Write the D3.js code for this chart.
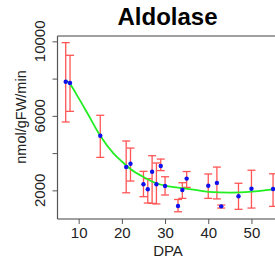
<!DOCTYPE html>
<html>
<head>
<meta charset="utf-8">
<script src="https://cdn.jsdelivr.net/npm/d3@7"></script>
<style>
  html, body { margin: 0; padding: 0; background: #fff; }
  svg { display: block; }
  text { font-family: "Liberation Sans", Arial, sans-serif; }
</style>
</head>
<body>
<div id="chart"></div>
<script>
// ---------------------------
// Data
// ---------------------------
const dpa = [7, 8, 15, 21, 22, 25, 26, 27, 28, 29, 30, 33, 34, 35, 40, 42, 43, 47, 50, 55];
const activity = [7830, 7760, 4930, 3250, 3430, 2330, 2060, 3000, 2330, 3310, 2230, 1160, 2020, 2630, 2250, 2400, 1140, 1680, 2090, 2070];
const errLow = [5670, 6240, 3770, 1870, 2500, 1660, 1320, 1300, 1270, 3060, 1750, 850, 1570, 2160, 1570, 1540, 1050, 980, 1050, 1140];
const errHigh = [9930, 9250, 6030, 4650, 4270, 3020, 2630, 3860, 3470, 3680, 2730, 1510, 2410, 3010, 2880, 3250, 1210, 2380, 3080, 2890];

// smooth fit (green)
const fitDpa = [7, 8, 10, 12, 15, 18, 20, 22, 25, 28, 30, 33, 37, 40, 45, 50, 55];
const fitVal = [7920, 7700, 6950, 6150, 4930, 4000, 3550, 3150, 2720, 2380, 2250, 2150, 2020, 1920, 1880, 1930, 2050];

const xTicks = [10, 20, 30, 40, 50];
const yTicks = [2000, 4000, 6000, 8000, 10000];
const yLabels = [2000, 6000, 10000];

const width = 275;
const height = 271;

const svg = d3.select("#chart")
  .append("svg")
  .attr("width", width)
  .attr("height", height);

// ---------------------------
// Scales
// ---------------------------
const x = d3.scaleLinear().domain([5.1, 55.45]).range([57.5, 275]);
const y = d3.scaleLinear().domain([462, 10287]).range([219, 36]);

// ---------------------------
// Box / axes
// ---------------------------
svg.append("line")
  .attr("x1", 57.5).attr("x2", 280)
  .attr("y1", 36).attr("y2", 36)
  .attr("stroke", "#a0a0a0").attr("stroke-width", 2);

const xAxis = svg.append("g")
  .attr("transform", "translate(0,219)")
  .call(d3.axisBottom(x).tickValues(xTicks).tickSize(5).tickPadding(3).tickSizeOuter(0));

const yAxis = svg.append("g")
  .attr("transform", "translate(57.5,0)")
  .call(d3.axisLeft(y).tickValues(yTicks).tickSize(5).tickFormat(d => "").tickSizeOuter(0));

xAxis.select(".domain").attr("stroke", "#a0a0a0").attr("stroke-width", 2)
  .attr("d", "M57.5,0H280");
yAxis.select(".domain").attr("stroke", "#555").attr("stroke-width", 1.2)
  .attr("d", `M0,36V219`);
xAxis.selectAll(".tick line").attr("stroke", "#555");
yAxis.selectAll(".tick line").attr("stroke", "#555");

xAxis.selectAll(".tick text")
  .attr("font-size", 15)
  .attr("font-family", "Liberation Sans, Arial, sans-serif")
  .attr("fill", "#222");

// rotated y tick labels
svg.append("g")
  .selectAll("text")
  .data(yLabels)
  .join("text")
  .attr("transform", d => `translate(45,${y(d)}) rotate(-90)`)
  .attr("text-anchor", "middle")
  .attr("font-size", 15)
  .attr("fill", "#222")
  .text(d => d);

// ---------------------------
// Titles
// ---------------------------
svg.append("text")
  .attr("x", 167.5)
  .attr("y", 25)
  .attr("text-anchor", "middle")
  .attr("font-size", 24)
  .attr("font-weight", "bold")
  .attr("fill", "#000")
  .text("Aldolase");

svg.append("text")
  .attr("x", 168)
  .attr("y", 256)
  .attr("text-anchor", "middle")
  .attr("font-size", 15)
  .attr("fill", "#222")
  .text("DPA");

svg.append("text")
  .attr("transform", "translate(26,117) rotate(-90)")
  .attr("text-anchor", "middle")
  .attr("font-size", 14.5)
  .attr("fill", "#222")
  .text("nmol/gFW/min");

// ---------------------------
// Error bars
// ---------------------------
const rows = dpa.map((d, i) => ({ x: d, v: activity[i], lo: errLow[i], hi: errHigh[i] }));

const bars = svg.append("g")
  .attr("stroke", "#f55")
  .attr("stroke-width", 1.3)
  .selectAll("g")
  .data(rows)
  .join("g");

bars.append("line")
  .attr("x1", d => x(d.x)).attr("x2", d => x(d.x))
  .attr("y1", d => y(d.lo)).attr("y2", d => y(d.hi));

bars.append("line")
  .attr("x1", d => x(d.x) - 4).attr("x2", d => x(d.x) + 4)
  .attr("y1", d => y(d.hi)).attr("y2", d => y(d.hi));

bars.append("line")
  .attr("x1", d => x(d.x) - 4).attr("x2", d => x(d.x) + 4)
  .attr("y1", d => y(d.lo)).attr("y2", d => y(d.lo));

// ---------------------------
// Fit line
// ---------------------------
const fit = fitDpa.map((d, i) => [d, fitVal[i]]);

svg.append("path")
  .datum(fit)
  .attr("fill", "none")
  .attr("stroke", "#22ee22")
  .attr("stroke-width", 1.8)
  .attr("d", d3.line()
    .x(d => x(d[0]))
    .y(d => y(d[1]))
    .curve(d3.curveMonotoneX));

// ---------------------------
// Points
// ---------------------------
svg.append("g")
  .selectAll("circle")
  .data(rows)
  .join("circle")
  .attr("cx", d => x(d.x))
  .attr("cy", d => y(d.v))
  .attr("r", 2.2)
  .attr("fill", "#1010ee");
</script>
</body>
</html>
